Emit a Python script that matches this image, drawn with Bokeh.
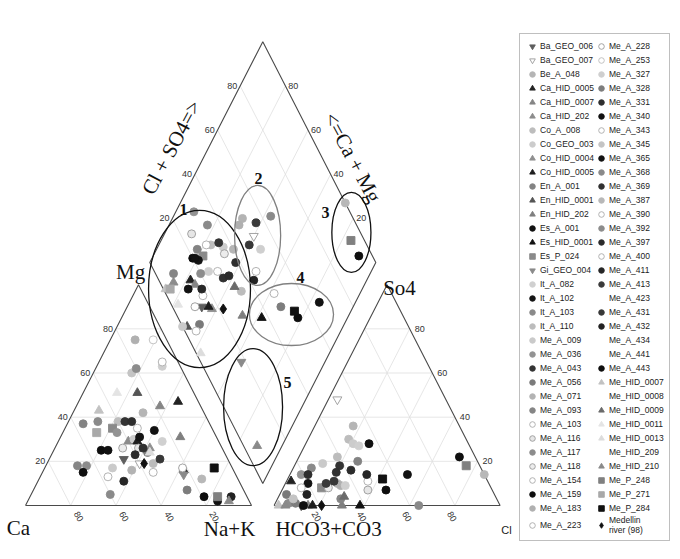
import numpy as np
from bokeh.plotting import figure
from bokeh.models import ColumnDataSource, Legend, LegendItem, Range1d
from bokeh.core.properties import value
from bokeh.embed import file_html
from bokeh.resources import INLINE

# ---------------- data ----------------
# legend order
series_names = [
    "Ba_GEO_006", "Ba_GEO_007", "Be_A_048", "Ca_HID_0005", "Ca_HID_0007", "Ca_HID_202",
    "Co_A_008", "Co_GEO_003", "Co_HID_0004", "Co_HID_0005", "En_A_001", "En_HID_0001",
    "En_HID_202", "Es_A_001", "Es_HID_0001", "Es_P_024", "Gi_GEO_004", "It_A_082",
    "It_A_102", "It_A_103", "It_A_110", "Me_A_009", "Me_A_036", "Me_A_043", "Me_A_056",
    "Me_A_071", "Me_A_093", "Me_A_103", "Me_A_116", "Me_A_117", "Me_A_118", "Me_A_154",
    "Me_A_159", "Me_A_183", "Me_A_223",
    "Me_A_228", "Me_A_253", "Me_A_327", "Me_A_328", "Me_A_331", "Me_A_340", "Me_A_343",
    "Me_A_345", "Me_A_365", "Me_A_368", "Me_A_369", "Me_A_387", "Me_A_390", "Me_A_392",
    "Me_A_397", "Me_A_400", "Me_A_411", "Me_A_413", "Me_A_423", "Me_A_431", "Me_A_432",
    "Me_A_434", "Me_A_441", "Me_A_443", "Me_HID_0007", "Me_HID_0008", "Me_HID_0009",
    "Me_HID_0011", "Me_HID_0013", "Me_HID_209", "Me_HID_210", "Me_P_248", "Me_P_271",
    "Me_P_284", "Medellin river (98)",
]

# cation triangle: Ca %, Mg % (Na+K = rest)
cat_names = ["Me_HID_0007", "Ca_HID_0007", "Ca_HID_0005", "Be_A_048", "En_A_001", "It_A_103",
             "Es_P_024", "Co_A_008", "Me_A_043", "Me_A_331", "Me_A_103", "Me_P_271", "Me_A_036",
             "Es_A_001", "Ca_HID_202", "Co_GEO_003", "It_A_102", "Co_HID_0005", "Me_A_116",
             "Me_A_369", "Co_HID_0004", "Me_HID_0013", "It_A_082", "En_HID_202", "Me_A_118",
             "Me_A_159", "Me_A_340", "Me_A_397", "Me_A_056", "Me_A_431", "Ba_GEO_006",
             "Ba_GEO_007", "Medellin river (98)", "It_A_110", "Me_A_093", "Me_A_117", "Me_A_443",
             "Me_A_009", "Me_A_154", "Me_A_411", "Me_A_071", "Me_A_223", "Me_A_228", "Gi_GEO_004",
             "Me_A_328", "Me_A_368", "Me_A_183", "Me_A_253", "Me_A_343", "Me_A_327", "Me_A_392",
             "Me_A_345", "Me_HID_0011", "En_HID_0001", "Me_P_284", "Me_A_387", "Me_A_159",
             "Me_A_365", "Me_P_248", "Me_HID_210", "Me_A_432", "Es_HID_0001"]
cat_ca = [46, 18, 9, 27, 56, 49, 44, 40, 37, 34, 33, 52, 43, 26, 40, 37, 34, 36, 37, 35, 32, 33,
          25, 16, 44, 54, 51, 40, 34, 30, 46, 40, 38, 34, 68, 64, 67, 53, 57, 51, 45, 36, 22, 23,
          25, 60, 14, 6, 7, 8, 20, 23, 34, 25, 8, 16, 19, 14, 13, 9, 7, 22]
cat_mg = [43, 45, 47, 42, 37, 38, 35, 38, 38, 38, 35, 33, 33, 34, 29, 30, 31, 29, 26, 26, 26, 24,
          29, 31, 26, 25, 25, 23, 24, 21, 21, 19, 19, 19, 18, 18, 15, 17, 13, 11, 16, 15, 17, 14,
          7, 5, 75, 75, 65, 63, 62, 60, 51, 51, 17, 12, 4, 2, 4, 2, 4, 16]

# anion triangle: Cl %, SO4 % (HCO3+CO3 = rest)
an_names = ["Ba_GEO_007", "Be_A_048", "Co_A_008", "Co_GEO_003", "It_A_082", "Es_A_001",
            "It_A_110", "Me_A_009", "Me_A_043", "En_A_001", "It_A_103", "Me_A_036", "Me_A_331",
            "Me_A_369", "Me_A_397", "Me_A_411", "Ca_HID_0005", "It_A_102", "Me_A_413", "Me_A_431",
            "Me_A_071", "Me_A_183", "Me_A_327", "Me_A_103", "Me_P_284", "Me_A_159", "Me_A_116",
            "Es_P_024", "Me_A_118", "Me_A_154", "Me_A_432", "Me_A_056", "Me_A_345", "Me_A_093",
            "Me_HID_0009", "Me_HID_0007", "Me_HID_210", "Me_A_117", "Me_A_328", "Ba_GEO_006",
            "Me_A_340", "Ca_HID_0007", "Co_HID_0005", "Medellin river (98)", "En_HID_202",
            "Es_HID_0001", "Me_A_368", "Me_A_365", "Me_A_443", "Me_P_248", "Me_A_387"]
an_cl = [4, 17, 18, 21, 24, 28, 17, 12, 20, 27, 8, 5, 8, 20, 26, 34, 2, 10, 18, 21, 23, 25, 27,
         36, 42, 46, 38, 17, 20, 8, 12, 3, 7, 28, 29, 2, 5, 6, 9, 12, 13, 15, 17, 21, 30, 38, 64,
         52, 71, 76, 86]
an_so4 = [48, 36, 30, 28, 27, 28, 22, 19, 18, 20, 17, 14, 14, 15, 16, 14, 11, 10, 10, 11, 10, 9,
          9, 11, 12, 7, 7, 8, 8, 8, 5, 5, 3, 3, 4, 0, 0, 1, 1, 0, 0, 0, 0, 0, 0, 0, 0, 14, 22, 18, 14]

# diamond: Ca+Mg %, Cl+SO4 %
dia_names = ["Me_A_036", "It_A_103", "Me_A_116", "Me_A_103", "Co_A_008", "Me_A_043",
             "Co_GEO_003", "Be_A_048", "Me_A_118", "En_A_001", "Es_P_024", "Me_A_159", "Me_A_340",
             "It_A_102", "Me_A_331", "It_A_082", "Me_A_154", "Me_A_369", "Me_A_397", "Me_A_117",
             "Me_A_093", "Ca_HID_202", "Me_HID_0007", "Me_P_271", "Ca_HID_0005", "Ca_HID_0007",
             "Es_A_001", "Me_A_411", "Me_A_223", "Me_HID_0009", "It_A_110", "Me_HID_0011",
             "Me_A_228", "Ba_GEO_006", "Co_HID_0005", "Co_HID_0004", "Medellin river (98)",
             "En_HID_202", "Me_A_009", "En_HID_0001", "Me_A_056", "Me_A_390", "Me_HID_0013",
             "Me_A_071", "Me_A_183", "Me_A_413", "Me_A_368", "Ba_GEO_007", "Me_A_431",
             "Me_A_327", "Me_A_400", "Me_A_432", "Me_A_387", "Me_P_248", "Me_A_443", "Me_A_343",
             "Me_A_328", "Me_P_284", "Me_A_159", "Me_A_365", "Es_HID_0001", "Gi_GEO_004",
             "Me_HID_210"]
dia_camg = [92, 83, 88, 79, 77, 74, 71, 66, 69, 82, 78, 82, 81, 79, 62, 72, 68, 64, 62, 75, 87,
            85, 87, 85, 78, 75, 77, 71, 69, 57, 53, 78, 70, 67, 64, 62, 57, 47, 71, 69, 64, 64,
            57, 69, 69, 62, 57, 60, 60, 54, 51, 50, 27, 16, 9, 38, 32, 25, 22, 16, 38, 37, 11]
dia_clso4 = [31, 34, 25, 29, 31, 35, 36, 40, 35, 24, 25, 20, 21, 22, 38, 24, 28, 29, 32, 20, 8,
             6, 1, 3, 14, 15, 11, 17, 16, 32, 34, 3, 10, 13, 16, 17, 22, 29, 0, 2, 8, 5, 2, 51,
             48, 56, 64, 52, 48, 52, 45, 42, 100, 94, 94, 48, 48, 53, 53, 66, 37, 18, 6]

tick_values = [20, 40, 60, 80]

# ---------------- styles ----------------
GREYS = {
    "Ba_GEO_006": ("inverted_triangle", "#5e5e5e", "#5e5e5e"),
    "Ba_GEO_007": ("inverted_triangle", "#ffffff", "#9a9a9a"),
    "Be_A_048": ("circle", "#b5b5b5", "#b5b5b5"),
    "Ca_HID_0005": ("triangle", "#222222", "#222222"),
    "Ca_HID_0007": ("triangle", "#858585", "#858585"),
    "Ca_HID_202": ("triangle", "#8c8c8c", "#8c8c8c"),
    "Co_A_008": ("circle", "#bdbdbd", "#bdbdbd"),
    "Co_GEO_003": ("circle", "#cccccc", "#cccccc"),
    "Co_HID_0004": ("triangle", "#8f8f8f", "#8f8f8f"),
    "Co_HID_0005": ("triangle", "#1e1e1e", "#1e1e1e"),
    "En_A_001": ("circle", "#838383", "#838383"),
    "En_HID_0001": ("triangle", "#555555", "#555555"),
    "En_HID_202": ("triangle", "#7f7f7f", "#7f7f7f"),
    "Es_A_001": ("circle", "#111111", "#111111"),
    "Es_HID_0001": ("triangle", "#111111", "#111111"),
    "Es_P_024": ("square", "#8a8a8a", "#8a8a8a"),
    "Gi_GEO_004": ("inverted_triangle", "#8a8a8a", "#8a8a8a"),
    "It_A_082": ("circle", "#d0d0d0", "#d0d0d0"),
    "It_A_102": ("circle", "#141414", "#141414"),
    "It_A_103": ("circle", "#8a8a8a", "#8a8a8a"),
    "It_A_110": ("circle", "#bcbcbc", "#bcbcbc"),
    "Me_A_009": ("circle", "#cacaca", "#cacaca"),
    "Me_A_036": ("circle", "#939393", "#939393"),
    "Me_A_043": ("circle", "#333333", "#333333"),
    "Me_A_056": ("circle", "#7a7a7a", "#7a7a7a"),
    "Me_A_071": ("circle", "#b3b3b3", "#b3b3b3"),
    "Me_A_093": ("circle", "#858585", "#858585"),
    "Me_A_103": ("circle", "#ffffff", "#aaaaaa"),
    "Me_A_116": ("circle", "#e6e6e6", "#9a9a9a"),
    "Me_A_117": ("circle", "#8c8c8c", "#8c8c8c"),
    "Me_A_118": ("circle", "#ececec", "#9a9a9a"),
    "Me_A_154": ("circle", "#ffffff", "#aaaaaa"),
    "Me_A_159": ("circle", "#0d0d0d", "#0d0d0d"),
    "Me_A_183": ("circle", "#b0b0b0", "#b0b0b0"),
    "Me_A_223": ("circle", "#ffffff", "#aaaaaa"),
    "Me_A_228": ("circle", "#ffffff", "#999999"),
    "Me_A_253": ("circle", "#ffffff", "#bbbbbb"),
    "Me_A_327": ("circle", "#cfcfcf", "#cfcfcf"),
    "Me_A_328": ("circle", "#7d7d7d", "#7d7d7d"),
    "Me_A_331": ("circle", "#2e2e2e", "#2e2e2e"),
    "Me_A_340": ("circle", "#111111", "#111111"),
    "Me_A_343": ("circle", "#ffffff", "#aaaaaa"),
    "Me_A_345": ("circle", "#c4c4c4", "#c4c4c4"),
    "Me_A_365": ("circle", "#121212", "#121212"),
    "Me_A_368": ("circle", "#8a8a8a", "#8a8a8a"),
    "Me_A_369": ("circle", "#303030", "#303030"),
    "Me_A_387": ("circle", "#b8b8b8", "#b8b8b8"),
    "Me_A_390": ("circle", "#ffffff", "#aaaaaa"),
    "Me_A_392": ("circle", "#8c8c8c", "#8c8c8c"),
    "Me_A_397": ("circle", "#2b2b2b", "#2b2b2b"),
    "Me_A_400": ("circle", "#ffffff", "#aaaaaa"),
    "Me_A_411": ("circle", "#262626", "#262626"),
    "Me_A_413": ("circle", "#3a3a3a", "#3a3a3a"),
    "Me_A_423": ("circle", "#bdbdbd", "#bdbdbd"),
    "Me_A_431": ("circle", "#383838", "#383838"),
    "Me_A_432": ("circle", "#222222", "#222222"),
    "Me_A_434": ("circle", "#f7f7f7", "#f2f2f2"),
    "Me_A_441": ("circle", "#959595", "#959595"),
    "Me_A_443": ("circle", "#0f0f0f", "#0f0f0f"),
    "Me_HID_0007": ("triangle", "#c2c2c2", "#c2c2c2"),
    "Me_HID_0008": ("triangle", "#151515", "#151515"),
    "Me_HID_0009": ("triangle", "#6a6a6a", "#6a6a6a"),
    "Me_HID_0011": ("triangle", "#e4e4e4", "#e4e4e4"),
    "Me_HID_0013": ("triangle", "#dcdcdc", "#dcdcdc"),
    "Me_HID_209": ("triangle", "#f5f5f5", "#f5f5f5"),
    "Me_HID_210": ("triangle", "#8a8a8a", "#8a8a8a"),
    "Me_P_248": ("square", "#808080", "#808080"),
    "Me_P_271": ("square", "#a9a9a9", "#a9a9a9"),
    "Me_P_284": ("square", "#111111", "#111111"),
    "Medellin river (98)": ("diamond", "#111111", "#111111"),
}
SIZES = {"circle": 8, "triangle": 9, "inverted_triangle": 9, "square": 8, "diamond": 10}

# ---------------- Piper geometry ----------------
S3 = np.sqrt(3) / 2
GAP = 10.0


def cation_xy(ca, mg):
    ca = np.asarray(ca, float); mg = np.asarray(mg, float)
    nak = 100 - ca - mg
    return nak + mg / 2, mg * S3


def anion_xy(cl, so4):
    cl = np.asarray(cl, float); so4 = np.asarray(so4, float)
    return 100 + GAP + cl + so4 / 2, so4 * S3


def diamond_xy(cm, cs):
    cm = np.asarray(cm, float); cs = np.asarray(cs, float)
    return 100 + GAP / 2 + 0.5 * (cs - cm), GAP * S3 + S3 * (cs + cm)


SX, SY = 2.26, 2.55   # px per unit
W, H = 679, 558
x0 = -25 / SX
y1 = 505 / SY
p = figure(width=W, height=H, x_range=Range1d(x0, x0 + W / SX), y_range=Range1d(y1 - H / SY, y1),
           output_backend="svg", toolbar_location=None, x_axis_location=None,
           y_axis_location=None, min_border=0, outline_line_color=None)
p.grid.visible = False

# grid lines
gx, gy = [], []
for v in tick_values:
    for f, a, b in [
        (cation_xy, (100 - v, v), (0, v)), (cation_xy, (v, 0), (v, 100 - v)),
        (cation_xy, (100 - v, 0), (0, 100 - v)),
        (anion_xy, (0, v), (100 - v, v)), (anion_xy, (v, 0), (v, 100 - v)),
        (anion_xy, (100 - v, 0), (0, 100 - v)),
        (diamond_xy, (0, v), (100, v)), (diamond_xy, (v, 0), (v, 100)),
    ]:
        xa, ya = f(*a); xb, yb = f(*b)
        gx.append([float(xa), float(xb)]); gy.append([float(ya), float(yb)])
p.multi_line(gx, gy, line_color="#e0e0e0", line_width=0.8)

# outlines
ox, oy = [], []
for f, pts in [(cation_xy, [(100, 0), (0, 0), (0, 100), (100, 0)]),
               (anion_xy, [(0, 0), (100, 0), (0, 100), (0, 0)]),
               (diamond_xy, [(0, 0), (0, 100), (100, 100), (100, 0), (0, 0)])]:
    xs, ys = f([q[0] for q in pts], [q[1] for q in pts])
    ox.append(list(xs)); oy.append(list(ys))
p.multi_line(ox, oy, line_color="#4a4a4a", line_width=1.1)

# points
cx, cy = cation_xy(cat_ca, cat_mg)
ax_, ay_ = anion_xy(an_cl, an_so4)
dx, dy = diamond_xy(dia_camg, dia_clso4)
allx = list(cx) + list(ax_) + list(dx)
ally = list(cy) + list(ay_) + list(dy)
alln = cat_names + an_names + dia_names

items = []
for name in series_names:
    mk, fc, lc = GREYS[name]
    xs = [x for x, n in zip(allx, alln) if n == name]
    ys = [y for y, n in zip(ally, alln) if n == name]
    src = ColumnDataSource(dict(x=xs, y=ys))
    r = p.scatter("x", "y", source=src, marker=mk, size=SIZES[mk], fill_color=fc,
                  line_color=lc, line_width=0.9)
    label = "Medellin\nriver (98)" if name.startswith("Medellin") else name
    items.append(LegendItem(label=label, renderers=[r]))

# group ellipses drawn in diamond coordinates
ell_x = [77.0, 102.7, 144.2, 117.7, 100.7]
ell_y = [84.9, 105.9, 107.1, 74.9, 38.6]
ell_w = [45.1, 20.4, 17.3, 37.2, 26.1]
ell_h = [61.6, 39.2, 31.4, 24.3, 45.9]
ell_c = ["#111111", "#808080", "#111111", "#808080", "#111111"]
p.ellipse(ell_x, ell_y, width=ell_w, height=ell_h, fill_color=None, line_color=ell_c,
          line_width=1.3)
p.text([69.9, 103.1, 132.7, 121.7, 115.9], [116.1, 128.2, 114.9, 89.4, 48.2],
       text=["1", "2", "3", "4", "5"], text_font=value("Liberation Serif"),
       text_font_size=value("16px"), text_font_style="bold", text_align="center",
       text_baseline="middle", text_color="#111111")

# tick labels
lab = [str(v) for v in tick_values]
TF = value("Liberation Sans")
TS = value("9px")
ex, ey = cation_xy([100 - v for v in tick_values], tick_values)
p.text(ex - 1.3, ey, text=lab, text_font=TF, text_font_size=TS, text_align="right",
       text_baseline="middle", text_color="#333333")
ex, ey = cation_xy(tick_values, [0] * 4)
p.text(ex + 3.5, ey - 4.3, text=lab, text_font=TF, text_font_size=TS, text_align="center",
       text_baseline="middle", text_color="#333333", angle=-np.pi / 3)
ex, ey = anion_xy(tick_values, [0] * 4)
p.text(ex - 1.3, ey - 4.3, text=lab, text_font=TF, text_font_size=TS, text_align="center",
       text_baseline="middle", text_color="#333333", angle=-np.pi / 3)
ex, ey = anion_xy([100 - v for v in tick_values], tick_values)
p.text(ex + 2.2, ey, text=lab, text_font=TF, text_font_size=TS, text_align="left",
       text_baseline="middle", text_color="#333333")
ex, ey = diamond_xy([100] * 4, tick_values)
p.text(ex - 1.3, ey, text=lab, text_font=TF, text_font_size=TS, text_align="right",
       text_baseline="middle", text_color="#333333")
ex, ey = diamond_xy(tick_values, [100] * 4)
p.text(ex + 1.3, ey, text=lab, text_font=TF, text_font_size=TS, text_align="left",
       text_baseline="middle", text_color="#333333")

# axis titles
SF = value("Liberation Serif")
p.text([64.6], [140.4], text=["Cl + SO4=>"], angle=np.deg2rad(62), text_font=SF,
       text_font_size=value("21px"), text_align="center", text_baseline="middle",
       text_color="#111111")
p.text([144.7], [136.5], text=["<=Ca + Mg"], angle=np.deg2rad(-62), text_font=SF,
       text_font_size=value("21px"), text_align="center", text_baseline="middle",
       text_color="#111111")
p.text([46.5, 165.5, -3.1, 90.3, 134.1], [91.4, 85.1, -9.0, -9.4, -9.4],
       text=["Mg", "So4", "Ca", "Na+K", "HCO3+CO3"], text_font=SF,
       text_font_size=value("21px"), text_align="center", text_baseline="middle",
       text_color="#111111")
p.text([212.8], [-9.8], text=["Cl"], text_font=TF, text_font_size=value("11px"),
       text_align="center", text_baseline="middle", text_color="#222222")

legend = Legend(items=items, ncols=2, location=(519, 17), orientation="vertical",
                label_text_font="Liberation Sans", label_text_font_size="8.5px",
                label_text_color="#222222", glyph_width=14, glyph_height=14, label_height=14,
                spacing=0, padding=5, margin=0, label_standoff=1,
                border_line_color="#808080", border_line_width=1, background_fill_alpha=1.0)
p.add_layout(legend)

open("out.html", "w").write(file_html(p, INLINE))
